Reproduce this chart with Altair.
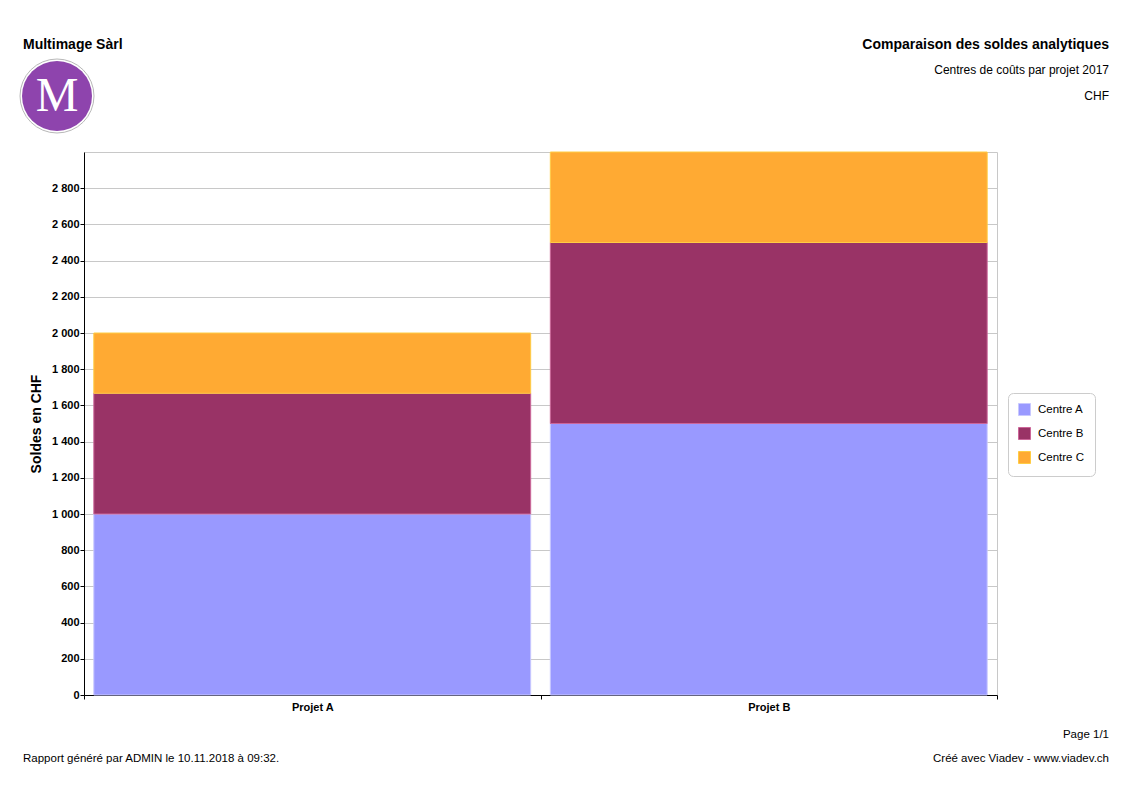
import altair as alt
import pandas as pd

# ---- data ----
projects = ["Projet A", "Projet A", "Projet A", "Projet B", "Projet B", "Projet B"]
centres = ["Centre A", "Centre B", "Centre C", "Centre A", "Centre B", "Centre C"]
values = [1000, 667, 333, 1500, 1000, 500]
stack_order = [1, 2, 3, 1, 2, 3]

centre_names = ["Centre A", "Centre B", "Centre C"]
fill_colors = ["#9999ff", "#993366", "#ffaa33"]
stroke_colors = ["#c8c8ff", "#cc6699", "#ffcc44"]
y_ticks = [0, 200, 400, 600, 800, 1000, 1200, 1400, 1600, 1800, 2000, 2200, 2400, 2600, 2800]

company = "Multimage Sàrl"
title = "Comparaison des soldes analytiques"
subtitle = "Centres de coûts par projet 2017"
currency = "CHF"
page_txt = "Page 1/1"
footer_left = "Rapport généré par ADMIN le 10.11.2018 à 09:32."
footer_right = "Créé avec Viadev - www.viadev.ch"
y_title = "Soldes en CHF"

df = pd.DataFrame({"projet": projects, "centre": centres, "solde": values, "ord": stack_order})

FONT = "Liberation Sans"

bars = alt.Chart(df).mark_bar(strokeWidth=1, width=alt.RelativeBandSize(0.957)).encode(
    x=alt.X("projet:N",
            scale=alt.Scale(paddingInner=0, paddingOuter=0),
            axis=alt.Axis(title=None, labelAngle=0, domainColor="#000", tickColor="#000",
                          tickSize=4, tickBand="extent", labelPadding=2, labelFontWeight="bold",
                          labelFontSize=11, labelFont=FONT, labelColor="#000", grid=False)),
    y=alt.Y("solde:Q", stack="zero",
            scale=alt.Scale(domain=[0, 3000], nice=False),
            axis=alt.Axis(title=y_title, values=y_ticks,
                          labelExpr="replace(format(datum.value, ','), ',', ' ')",
                          domainColor="#000", tickColor="#000", tickSize=4, labelPadding=1,
                          labelFontWeight="bold", labelFontSize=11, labelFont=FONT, labelColor="#000",
                          gridColor="#c8c8c8", grid=True, titleFont=FONT, titleFontSize=14,
                          titleFontWeight="bold", titleColor="#000", titlePadding=8)),
    fill=alt.Fill("centre:N", title=None,
                  scale=alt.Scale(domain=centre_names, range=fill_colors),
                  legend=alt.Legend(orient="none", legendX=924, legendY=241, padding=10,
                                    cornerRadius=5, strokeColor="#cccccc", fillColor="#ffffff",
                                    symbolType="square", symbolSize=144, symbolStrokeWidth=1,
                                    rowPadding=7, labelOffset=7, labelFont=FONT,
                                    labelFontSize=11.5, labelColor="#000")),
    stroke=alt.Stroke("centre:N", scale=alt.Scale(domain=centre_names, range=stroke_colors),
                      legend=None),
    order=alt.Order("ord:Q"),
)


def txt(s, x, y, size=11, weight="normal", align="left"):
    return alt.Chart(pd.DataFrame({"t": [s]})).mark_text(
        font=FONT, fontSize=size, fontWeight=weight, align=align, baseline="alphabetic",
        color="#000"
    ).encode(text="t:N", x=alt.value(x), y=alt.value(y))


logo_df = pd.DataFrame({"t": ["M"]})
logo_ring = alt.Chart(logo_df).mark_point(
    shape="circle", size=5476, filled=True, fill="#ffffff", stroke="#b8b8b8", strokeWidth=1, opacity=1
).encode(x=alt.value(-27), y=alt.value(-56))
logo_disc = alt.Chart(logo_df).mark_point(
    shape="circle", size=4900, filled=True, fill="#8e44ad", strokeWidth=0, opacity=1
).encode(x=alt.value(-27), y=alt.value(-56))
logo_m = alt.Chart(logo_df).mark_text(
    font="Liberation Serif", fontSize=48, color="#ffffff", align="center", baseline="alphabetic"
).encode(text="t:N", x=alt.value(-27), y=alt.value(-41))

chart = alt.layer(
    bars,
    txt(company, -61, -103, size=14, weight="bold"),
    txt(title, 1025, -103, size=14, weight="bold", align="right"),
    txt(subtitle, 1025, -78, size=12, align="right"),
    txt(currency, 1025, -52, size=12, align="right"),
    txt(page_txt, 1025, 586, size=11.5, align="right"),
    txt(footer_right, 1025, 610, size=11.5, align="right"),
    txt(footer_left, -61, 610, size=11.5),
    logo_ring, logo_disc, logo_m,
).properties(
    width=913, height=543,
    padding={"left": 76, "top": 144, "right": 118, "bottom": 90},
    autosize=alt.AutoSizeParams(type="none"),
).configure_view(stroke="#c8c8c8")

chart.save("out.html", embed_options={"renderer": "svg", "actions": False})
